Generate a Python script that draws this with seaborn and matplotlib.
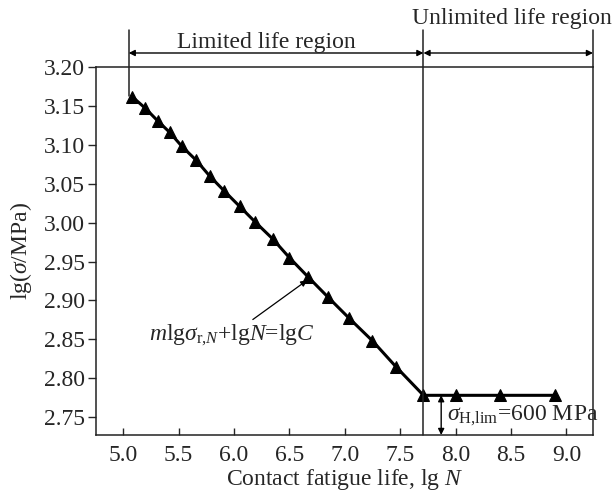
import numpy as np
import pandas as pd
import matplotlib
matplotlib.use("Agg")
import matplotlib.pyplot as plt
import seaborn as sns

# S-N curve data: contact fatigue life vs. stress (log scales)
lg_N = [5.08, 5.20, 5.31, 5.42, 5.53, 5.66, 5.78, 5.91, 6.05, 6.19, 6.35,
        6.50, 6.67, 6.85, 7.04, 7.25, 7.46, 7.71, 8.00, 8.40, 8.90]
lg_sigma = [3.162, 3.147, 3.131, 3.116, 3.098, 3.080, 3.060, 3.041, 3.021,
            3.001, 2.979, 2.955, 2.930, 2.904, 2.877, 2.848, 2.815, 2.778,
            2.778, 2.778, 2.778]

x_ticks = [5.0, 5.5, 6.0, 6.5, 7.0, 7.5, 8.0, 8.5, 9.0]
y_ticks = [2.75, 2.80, 2.85, 2.90, 2.95, 3.00, 3.05, 3.10, 3.15, 3.20]

knee_lgN = 7.71          # boundary between limited and unlimited life
start_lgN = 5.05
sigma_lim = np.log10(600)

FS = 17

sns.set_style("ticks")
plt.rcParams["font.family"] = ["Liberation Serif", "DejaVu Serif"]
plt.rcParams["mathtext.fontset"] = "custom"
plt.rcParams["mathtext.rm"] = "Liberation Serif"
plt.rcParams["mathtext.it"] = "Liberation Serif:italic"
plt.rcParams["mathtext.bf"] = "Liberation Serif:bold"

df = pd.DataFrame({"lgN": lg_N, "lgS": lg_sigma})

fig = plt.figure(figsize=(6.14, 4.91), dpi=100)
ax = fig.add_axes([96 / 614, 1 - 435 / 491, (593 - 96) / 614, (435 - 67) / 491])

sns.lineplot(data=df, x="lgN", y="lgS", ax=ax, color="black", lw=2.2,
             marker="^", markersize=8.5, markeredgecolor="black",
             markerfacecolor="black", sort=False)

ax.set_xlim(4.755, 9.24)
ax.set_ylim(2.727, 3.20)
ax.set_xticks(x_ticks)
ax.set_xticklabels([f"{v:.1f}" for v in x_ticks])
ax.set_yticks(y_ticks)
ax.set_yticklabels([f"{v:.2f}" for v in y_ticks])
ax.tick_params(axis="x", direction="in", length=5, width=1, labelsize=FS, pad=7)
ax.tick_params(axis="y", direction="out", length=6, width=1, labelsize=FS, pad=2)
for s in ax.spines.values():
    s.set_visible(True)
    s.set_linewidth(1.1)
    s.set_color("#222222")

ax.set_xlabel(r"Contact fatigue life, lg $N$", fontsize=FS, labelpad=1)
ax.set_ylabel(r"lg($\sigma$/MPa)", fontsize=FS, labelpad=7)

y_top_line = 3.2476
y_arrow = 3.218
x_right = ax.get_xlim()[1]

# region boundaries extending above the frame
ax.plot([knee_lgN, knee_lgN], [ax.get_ylim()[0], y_top_line], color="#222222",
        lw=1.1, clip_on=False)
ax.plot([start_lgN, start_lgN], [3.163, y_top_line], color="#222222",
        lw=1.1, clip_on=False)
ax.plot([x_right, x_right], [3.20, y_top_line], color="#222222",
        lw=1.1, clip_on=False)

arrow_kw = dict(arrowstyle="<|-|>", color="black", lw=1.0,
                mutation_scale=9, shrinkA=0, shrinkB=0)
ax.annotate("", xy=(start_lgN, y_arrow), xytext=(knee_lgN, y_arrow),
            arrowprops=arrow_kw, annotation_clip=False)
ax.annotate("", xy=(knee_lgN, y_arrow), xytext=(x_right, y_arrow),
            arrowprops=arrow_kw, annotation_clip=False)

ax.text(6.29, 3.232, "Limited life region", ha="center", va="center",
        fontsize=FS, clip_on=False)
ax.text(8.51, 3.262, "Unlimited life region", ha="center", va="center",
        fontsize=FS, clip_on=False)

# endurance limit marker
x_lim_arrow = 7.87
ax.annotate("", xy=(x_lim_arrow, sigma_lim), xytext=(x_lim_arrow, ax.get_ylim()[0]),
            arrowprops=arrow_kw, annotation_clip=False)
ax.text(7.92, 2.752, r"$\sigma_{\mathrm{H{,}lim}}$=600 MPa", ha="left",
        va="center", fontsize=FS, clip_on=False)

# equation label with pointer to the sloped segment
ax.annotate(r"$m\mathrm{lg}\sigma_{\mathrm{r}{,}N}$+lg$N$=lg$C$",
            xy=(6.69, 2.929), xytext=(5.98, 2.855),
            ha="center", va="center", fontsize=FS,
            arrowprops=dict(arrowstyle="-|>", color="black", lw=0.9,
                            mutation_scale=9, shrinkA=0, shrinkB=3,
                            relpos=(0.6, 1.0)))

fig.savefig("out.png", dpi=100)
